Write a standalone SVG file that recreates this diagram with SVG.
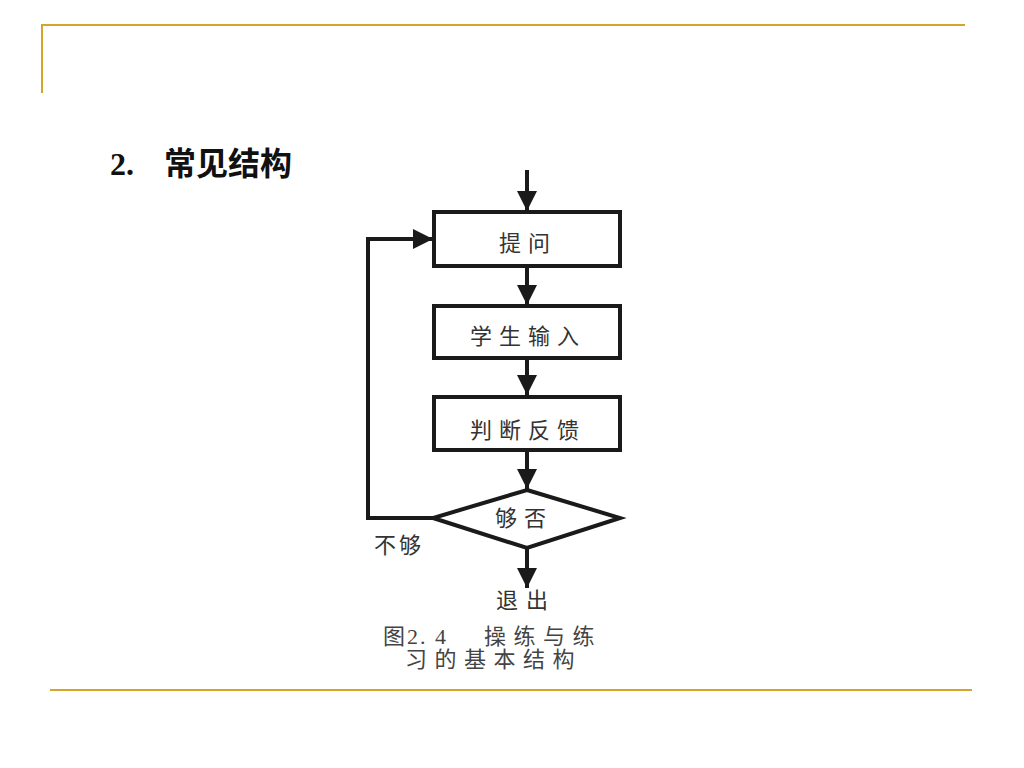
<svg xmlns="http://www.w3.org/2000/svg" width="1024" height="768" viewBox="0 0 1024 768">
<defs>
<style>
.frame{stroke:#D4A52A;stroke-width:2;fill:none}
.box{fill:#fff;stroke:#1a1a1a;stroke-width:4}
.edge{stroke:#1a1a1a;stroke-width:4;fill:none}
.t{font-family:"Liberation Serif","Noto Sans CJK SC",serif;fill:#333;font-size:22px;letter-spacing:7px}
.cap{font-family:"Liberation Serif","Noto Sans CJK SC",serif;fill:#444;font-size:22px;letter-spacing:7.5px}
.ttl{font-family:"Liberation Serif","Noto Sans CJK SC",serif;font-weight:bold;font-size:32px;fill:#111}
</style>
<marker id="ah" viewBox="0 0 10 10" refX="10" refY="5" markerWidth="5" markerHeight="5" orient="auto" markerUnits="strokeWidth">
<path d="M0,0 L10,5 L0,10 z" fill="#1a1a1a"/>
</marker>
</defs>
<rect width="1024" height="768" fill="#fff"/>
<g id="frame">
<path class="frame" d="M42,93 V25 H965"/>
<path class="frame" d="M50,690 H972"/>
</g>
<g id="title">
<text class="ttl" x="110" y="175">2.</text>
<text class="ttl" x="164" y="175">常见结构</text>
</g>
<g id="connectors">
<path class="edge" d="M527,170 V211" marker-end="url(#ah)"/>
<path class="edge" d="M527,266 V305" marker-end="url(#ah)"/>
<path class="edge" d="M527,358 V395" marker-end="url(#ah)"/>
<path class="edge" d="M527,450 V489" marker-end="url(#ah)"/>
<path class="edge" d="M527,548 V588" marker-end="url(#ah)"/>
<path class="edge" d="M434,518 H368 V239 H433" marker-end="url(#ah)"/>
</g>
<g id="n1"><rect class="box" x="434" y="212" width="186" height="54"/><text class="t" x="499" y="251">提问</text></g>
<g id="n2"><rect class="box" x="434" y="306" width="186" height="52"/><text class="t" x="470" y="344">学生输入</text></g>
<g id="n3"><rect class="box" x="434" y="397" width="186" height="53"/><text class="t" x="470" y="438">判断反馈</text></g>
<g id="n4"><polygon class="box" points="527,490 620,518 527,548 433,518"/><text class="t" x="495" y="526">够否</text></g>
<g id="lbl1"><text class="t" x="374" y="553" style="letter-spacing:3px">不够</text></g>
<g id="n5"><text class="t" x="496" y="608" style="letter-spacing:8px">退出</text></g>
<g id="caption">
<text class="cap" x="383" y="644" style="letter-spacing:2px">图2. 4</text>
<text class="cap" x="484" y="644">操练与练</text>
<text class="cap" x="405" y="667">习的基本结构</text>
</g>
</svg>
